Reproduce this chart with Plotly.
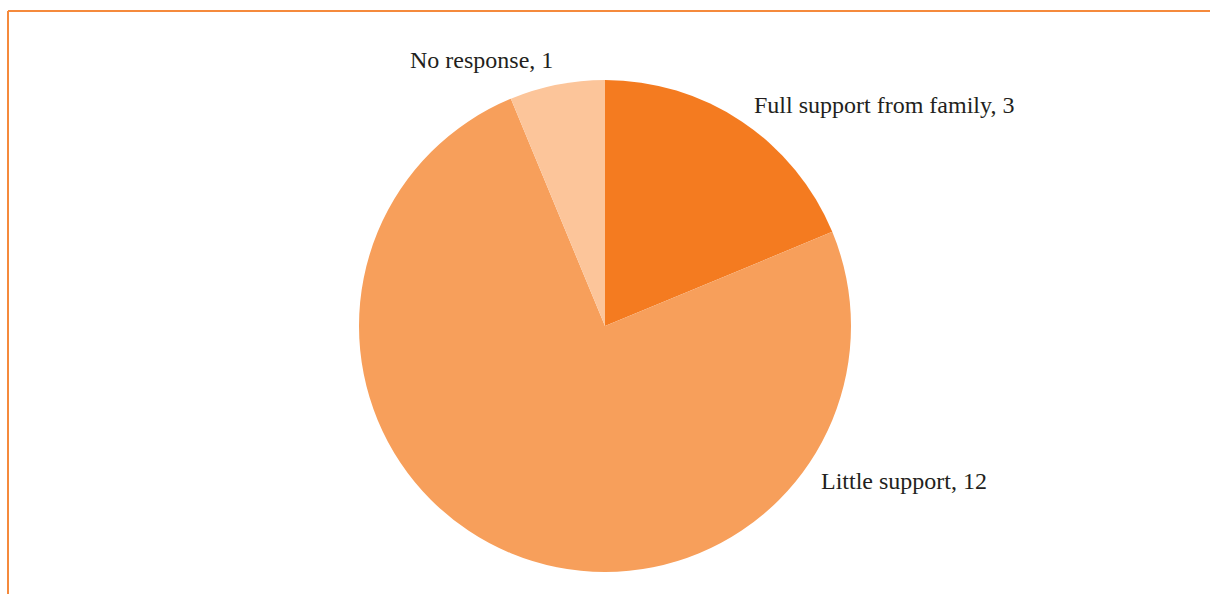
import plotly.graph_objects as go

labels = ["Full support from family", "Little support", "No response"]
values = [3, 12, 1]
colors = ["#F47B20", "#F79F5B", "#FCC59A"]
# label anchor positions in pixels (left x, center y)
label_px = [(752, 105), (819, 481), (408, 60)]

W, H = 1210, 594
cx, cy, r = 605, 326, 246

fig = go.Figure(go.Pie(
    labels=labels, values=values, sort=False, direction="clockwise", rotation=0,
    marker=dict(colors=colors, line=dict(width=0)), textinfo="none", hoverinfo="label+value",
    domain=dict(x=[(cx - r) / W, (cx + r) / W], y=[1 - (cy + r) / H, 1 - (cy - r) / H]),
    showlegend=False,
))

for lab, val, (px, py) in zip(labels, values, label_px):
    fig.add_annotation(x=px / W, y=1 - py / H, xref="paper", yref="paper",
                       text=f"{lab}, {val}", showarrow=False, xanchor="left", yanchor="middle",
                       font=dict(family="Liberation Serif", size=24, color="#231F20"))

border = "#F58A3C"
fig.add_shape(type="line", xref="paper", yref="paper", x0=8 / W, x1=1, y0=1 - 11 / H, y1=1 - 11 / H,
              line=dict(color=border, width=2))
fig.add_shape(type="line", xref="paper", yref="paper", x0=8 / W, x1=8 / W, y0=1 - 11 / H, y1=0,
              line=dict(color=border, width=2))

fig.update_layout(width=W, height=H, margin=dict(l=0, r=0, t=0, b=0),
                  paper_bgcolor="white", plot_bgcolor="white")
fig.write_html("out.html")
